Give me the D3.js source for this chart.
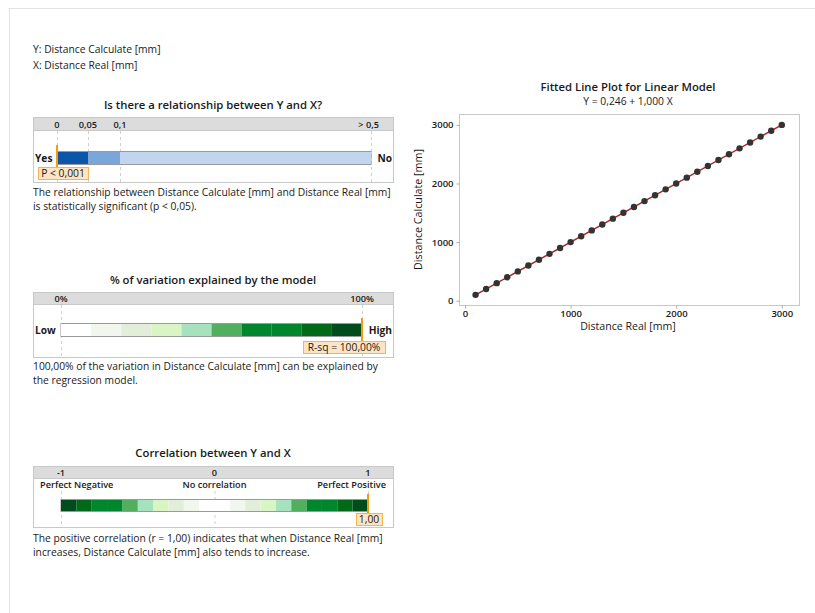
<!DOCTYPE html>
<html><head><meta charset="utf-8">
<script src="https://cdn.jsdelivr.net/npm/d3@7"></script>
<style>
body{margin:0;background:#fff;}
svg text{font-family:"Open Sans","Noto Sans",sans-serif;fill:#1a1a1a;}
</style></head>
<body>
<svg id="c" width="815" height="613"></svg>
<script>
// ---- data ----
const distanceReal = [100,200,300,400,500,600,700,800,900,1000,1100,1200,1300,1400,1500,1600,1700,1800,1900,2000,2100,2200,2300,2400,2500,2600,2700,2800,2900,3000];
const distanceCalc = [100,200,300,400,500,600,700,800,900,1000,1100,1200,1300,1400,1500,1600,1700,1800,1900,2000,2100,2200,2300,2400,2500,2600,2700,2800,2900,3000];
const fitIntercept = 0.246, fitSlope = 1.000;
const xTicks = [0,1000,2000,3000];
const yTicks = [0,1000,2000,3000];
const pTicks = [0,0.05,0.1,0.5];
const pTickLabels = ["0","0,05","0,1","> 0,5"];
const pBands = [[0,0.05],[0.05,0.1],[0.1,0.5]];
const pColors = ["#0a56a8","#7aa6da","#c1d5ef"];
const rsqBins = [0,0.1,0.2,0.3,0.4,0.5,0.6,0.7,0.8,0.9,1.0];
const greenColors = ["#ffffff","#f1f7ef","#e2eed9","#d9f5c6","#a6e2bd","#52af5f","#00862d","#00862d","#006a19","#004c1a"];
const rsqValue = 1.0;
const corrValue = 1.0;
const corrTicks = [-1,0,1];
const corrTickLabels = ["-1","0","1"];

const svg = d3.select("#c");
svg.append("line").attr("x1",8.5).attr("x2",815).attr("y1",8.5).attr("y2",8.5).attr("stroke","#e3e3e3");
svg.append("line").attr("x1",9.5).attr("x2",9.5).attr("y1",8.5).attr("y2",613).attr("stroke","#e3e3e3");

const small = 10.3, tickFs = 9.2, titleFs = 11.3, sideFs = 10.2;
svg.append("text").attr("x",33).attr("y",53).attr("font-size",small).text("Y: Distance Calculate [mm]");
svg.append("text").attr("x",33).attr("y",69).attr("font-size",small).text("X: Distance Real [mm]");

function panelBox(t0, headerH, b0){
  svg.append("rect").attr("x",33.5).attr("y",t0+0.5).attr("width",360).attr("height",b0-t0).attr("fill","#fff").attr("stroke","#c8c8c8");
  svg.append("rect").attr("x",33.5).attr("y",t0+0.5).attr("width",360).attr("height",headerH).attr("fill","#dcdcdc").attr("stroke","#c8c8c8");
}
function title(t, yy){
  svg.append("text").attr("x",213).attr("y",yy).attr("text-anchor","middle").attr("font-size",titleFs).attr("font-weight",600).text(t);
}
function labelBox(xc, yy, w, txt, anchorRight){
  const g = svg.append("g");
  const x0 = anchorRight ? xc - w : xc;
  g.append("rect").attr("x",x0+0.5).attr("y",yy+0.5).attr("width",w).attr("height",12).attr("fill","#fde5c4").attr("stroke","#f5b452");
  g.append("text").attr("x",x0+w/2).attr("y",yy+10).attr("text-anchor","middle").attr("font-size",small).text(txt);
}
function marker(xx,y1,y2){
  svg.append("line").attr("x1",xx).attr("x2",xx).attr("y1",y1).attr("y2",y2).attr("stroke","#f39c12").attr("stroke-width",2);
}
function tickText(xx, yy, txt, anchor){
  return svg.append("text").attr("x",xx).attr("y",yy).attr("text-anchor",anchor||"middle").attr("font-size",tickFs).attr("font-weight",600).attr("fill","#333").text(txt);
}

// ---- panel 1: p-value ----
title("Is there a relationship between Y and X?", 109);
panelBox(117, 13, 182);
const pScale = d3.scaleLinear().domain([0,0.05,0.1,0.5]).range([57,88,120,371]);
pTicks.forEach((t,i)=>{
  svg.append("line").attr("x1",pScale(t)+0.5).attr("x2",pScale(t)+0.5).attr("y1",131).attr("y2",182).attr("stroke","#d0d0d0").attr("stroke-dasharray","3,3");
  tickText(pScale(t) + (i==3?8:0), 127.5, pTickLabels[i], i==3?"end":"middle");
});
svg.append("rect").attr("x",pScale(0)).attr("y",151.5).attr("width",pScale(0.5)-pScale(0)).attr("height",13).attr("fill","none").attr("stroke","#999");
pBands.forEach((b,i)=>{
  svg.append("rect").attr("x",pScale(b[0])).attr("y",152).attr("width",pScale(b[1])-pScale(b[0])).attr("height",12).attr("fill",pColors[i]);
});
svg.append("text").attr("x",35).attr("y",161.5).attr("font-size",sideFs).attr("font-weight",700).text("Yes");
svg.append("text").attr("x",392).attr("y",161.5).attr("text-anchor","end").attr("font-size",sideFs).attr("font-weight",700).text("No");
marker(pScale(0),145,168);
labelBox(38,167,50,"P < 0,001",false);
svg.append("text").attr("x",33).attr("y",196).attr("font-size",small).text("The relationship between Distance Calculate [mm] and Distance Real  [mm]");
svg.append("text").attr("x",33).attr("y",210).attr("font-size",small).text("is statistically significant (p < 0,05).");

// ---- panel 2: R-sq ----
title("% of variation explained by the model", 284);
panelBox(292, 12, 357);
const rScale = d3.scaleLinear().domain([0,1]).range([61,362]);
[0,1].forEach((t,i)=>{
  svg.append("line").attr("x1",rScale(t)+0.5).attr("x2",rScale(t)+0.5).attr("y1",305).attr("y2",357).attr("stroke","#d0d0d0").attr("stroke-dasharray","3,3");
  tickText(rScale(t), 301.5, i==0?"0%":"100%");
});
svg.append("rect").attr("x",rScale(0)).attr("y",323.5).attr("width",rScale(1)-rScale(0)).attr("height",13).attr("fill","#fff").attr("stroke","#999");
for(let i=0;i<10;i++){
  svg.append("rect").attr("x",rScale(rsqBins[i])).attr("y",324).attr("width",rScale(rsqBins[i+1])-rScale(rsqBins[i])).attr("height",12).attr("fill",greenColors[i]);
}
svg.append("text").attr("x",35).attr("y",334).attr("font-size",sideFs).attr("font-weight",700).text("Low");
svg.append("text").attr("x",392).attr("y",334).attr("text-anchor","end").attr("font-size",sideFs).attr("font-weight",700).text("High");
marker(rScale(rsqValue),318,342);
labelBox(385,341,82,"R-sq = 100,00%",true);
svg.append("text").attr("x",33).attr("y",370).attr("font-size",small).text("100,00% of the variation in Distance Calculate [mm] can be explained by");
svg.append("text").attr("x",33).attr("y",384).attr("font-size",small).text("the regression model.");

// ---- panel 3: correlation ----
title("Correlation between Y and X", 457);
panelBox(466, 12, 527);
const cScale = d3.scaleLinear().domain([-1,1]).range([61,368]);
corrTicks.forEach((t,i)=>{
  svg.append("line").attr("x1",cScale(t)+0.5).attr("x2",cScale(t)+0.5).attr("y1",491).attr("y2",527).attr("stroke","#d0d0d0").attr("stroke-dasharray","3,3");
  tickText(cScale(t), 476, corrTickLabels[i]);
});
tickText(40, 488, "Perfect Negative", "start");
tickText(cScale(0), 488, "No correlation");
tickText(386, 488, "Perfect Positive", "end");
svg.append("rect").attr("x",cScale(-1)).attr("y",499.5).attr("width",cScale(1)-cScale(-1)).attr("height",12).attr("fill","#fff").attr("stroke","#999");
for(let i=0;i<10;i++){
  svg.append("rect").attr("x",cScale(rsqBins[i])).attr("y",500).attr("width",cScale(rsqBins[i+1])-cScale(rsqBins[i])).attr("height",11).attr("fill",greenColors[i]);
  svg.append("rect").attr("x",cScale(-rsqBins[i+1])).attr("y",500).attr("width",cScale(-rsqBins[i])-cScale(-rsqBins[i+1])).attr("height",11).attr("fill",greenColors[i]);
}
marker(cScale(corrValue),494,516);
labelBox(382,513,26,"1,00",true);
svg.append("text").attr("x",33).attr("y",542).attr("font-size",small).text("The positive correlation (r = 1,00) indicates that when Distance Real  [mm]");
svg.append("text").attr("x",33).attr("y",556).attr("font-size",small).text("increases, Distance Calculate [mm] also tends to increase.");

// ---- fitted line plot ----
const pl=459, pr=799, pt=114, pb=305;
const x = d3.scaleLinear().domain([-57,3163]).range([pl,pr]);
const y = d3.scaleLinear().domain([-73,3186]).range([pb,pt]);
svg.append("text").attr("x",628).attr("y",91).attr("text-anchor","middle").attr("font-size",titleFs).attr("font-weight",600).text("Fitted Line Plot for Linear Model");
svg.append("text").attr("x",628).attr("y",105).attr("text-anchor","middle").attr("font-size",small).text("Y = 0,246 + 1,000 X");
svg.append("rect").attr("x",pl+0.5).attr("y",pt+0.5).attr("width",pr-pl).attr("height",pb-pt).attr("fill","#fff").attr("stroke","#c8c8c8");

const xa = svg.append("g").attr("transform",`translate(0,${pb+0.5})`).call(d3.axisBottom(x).tickValues(xTicks).tickSize(3).tickPadding(2).tickFormat(d3.format("d")));
const ya = svg.append("g").attr("transform",`translate(${pl+0.5},0)`).call(d3.axisLeft(y).tickValues(yTicks).tickSize(3).tickPadding(3).tickFormat(d3.format("d")));
[xa,ya].forEach(a=>{
  a.select(".domain").remove();
  a.selectAll("line").attr("stroke","#aaa");
  a.selectAll("text").attr("font-size",9.5).attr("font-weight",600).attr("fill","#222").style("font-family","'Open Sans','Noto Sans',sans-serif");
});
svg.append("text").attr("x",628).attr("y",330).attr("text-anchor","middle").attr("font-size",10.6).text("Distance Real [mm]");
svg.append("text").attr("transform",`translate(422,${(pt+pb)/2}) rotate(-90)`).attr("text-anchor","middle").attr("font-size",10.7).text("Distance Calculate [mm]");

const xmin=d3.min(distanceReal), xmax=d3.max(distanceReal);
svg.append("line").attr("x1",x(xmin)).attr("y1",y(fitIntercept+fitSlope*xmin)).attr("x2",x(xmax)).attr("y2",y(fitIntercept+fitSlope*xmax)).attr("stroke","#b22222").attr("stroke-width",1.5);
svg.append("g").selectAll("circle").data(distanceReal).join("circle")
  .attr("cx",d=>x(d)).attr("cy",(d,i)=>y(distanceCalc[i])).attr("r",3.2).attr("fill","#333");
</script>
</body></html>
